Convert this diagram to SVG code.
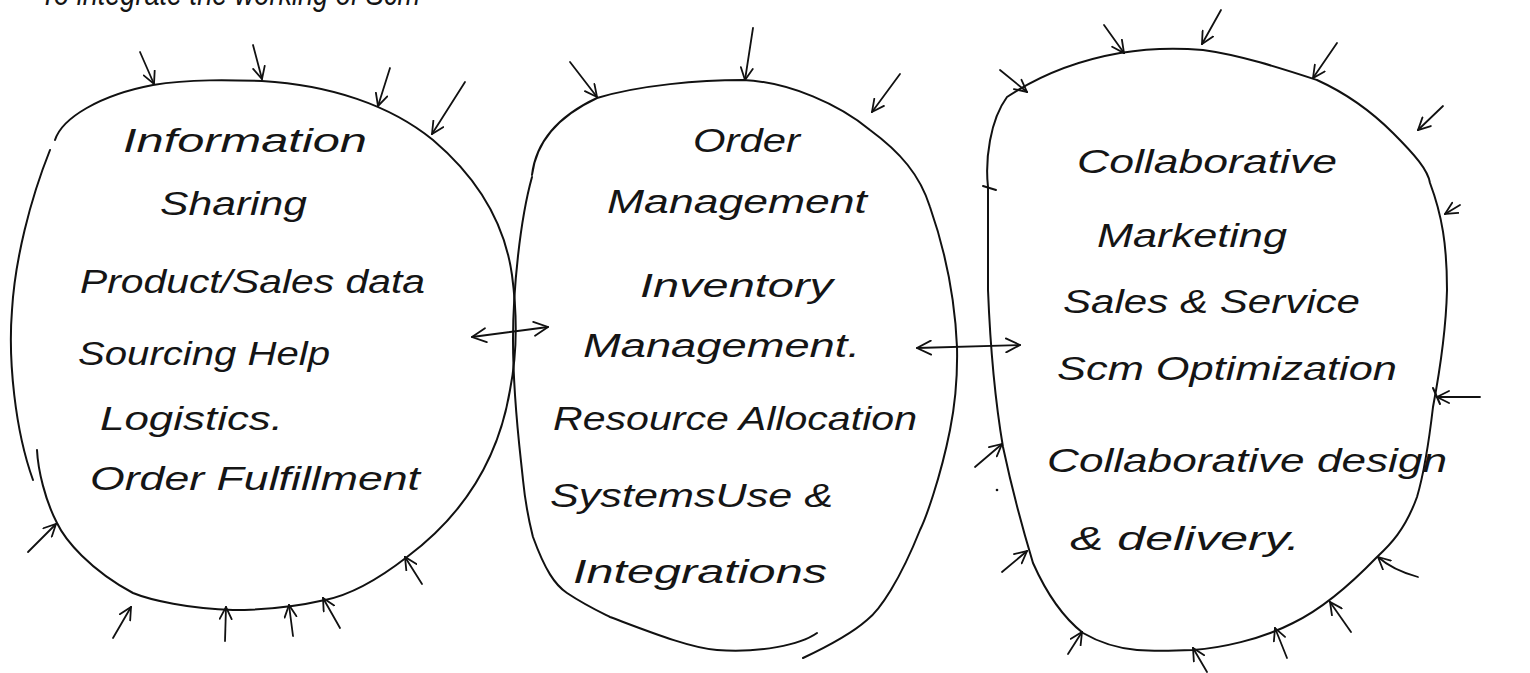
<svg xmlns="http://www.w3.org/2000/svg" width="1530" height="673" viewBox="0 0 1530 673">
  <style>
    .ink { fill: none; stroke: #111; stroke-width: 2; stroke-linecap: round; stroke-linejoin: round; }
    .arr { fill: none; stroke: #111; stroke-width: 1.8; stroke-linecap: round; marker-end: url(#head); }
    .dbl { fill: none; stroke: #111; stroke-width: 1.8; stroke-linecap: round; marker-start: url(#head2); marker-end: url(#head2); }
    .hand { font-family: "Liberation Sans", "DejaVu Sans", sans-serif; font-style: italic; font-size: 33px; fill: #151515; }
  </style>
  <defs>
    <marker id="head" viewBox="0 0 14 14" refX="13" refY="7" markerWidth="14" markerHeight="14" markerUnits="userSpaceOnUse" orient="auto">
      <path d="M1,1 L13,7 L1,13" fill="none" stroke="#111" stroke-width="1.8" stroke-linecap="round"/>
    </marker>
    <marker id="head2" viewBox="0 0 16 16" refX="15" refY="8" markerWidth="16" markerHeight="16" markerUnits="userSpaceOnUse" orient="auto-start-reverse">
      <path d="M1,1 L15,8 L1,15" fill="none" stroke="#111" stroke-width="1.8" stroke-linecap="round"/>
    </marker>
  </defs>

  <rect width="1530" height="673" fill="#fff"/>

  <!-- heading line, running off the top edge -->
  <text class="hand" x="40" y="5" textLength="380" lengthAdjust="spacingAndGlyphs">To integrate the working of Scm</text>

  <!-- left cluster -->
  <g id="info-sharing">
    <path class="ink" d="M55,140 C62,118 100,95 153,85 C190,79 230,80 262,81 C330,85 390,105 433,140 C480,180 505,225 512,275 C518,320 516,360 510,390 C500,450 470,510 407,557 C380,578 350,595 325,600 C290,608 260,610 233,610 C190,609 150,600 133,593 C90,570 65,540 57,523 C45,500 38,470 37,450"/>
    <path class="ink" d="M50,150 C30,200 15,260 12,310 C8,360 15,430 33,480"/>
    <text class="hand" x="123" y="152" textLength="244" lengthAdjust="spacingAndGlyphs">Information</text>
    <text class="hand" x="160" y="215" textLength="147" lengthAdjust="spacingAndGlyphs">Sharing</text>
    <text class="hand" x="80" y="293" textLength="345" lengthAdjust="spacingAndGlyphs">Product/Sales data</text>
    <text class="hand" x="78" y="365" textLength="252" lengthAdjust="spacingAndGlyphs">Sourcing Help</text>
    <text class="hand" x="100" y="430" textLength="183" lengthAdjust="spacingAndGlyphs">Logistics.</text>
    <text class="hand" x="90" y="490" textLength="330" lengthAdjust="spacingAndGlyphs">Order Fulfillment</text>
  </g>

  <!-- middle cluster -->
  <g id="order-management">
    <path class="ink" d="M532,175 C535,150 550,120 597,98 C640,85 700,80 743,80 C790,82 840,105 870,130 C900,152 920,175 930,207 C945,250 955,300 957,347 C958,390 952,420 950,430 C940,480 925,520 920,530 C900,580 880,610 867,620 C850,635 820,650 803,658"/>
    <path class="ink" d="M532,177 C520,220 513,290 513,340 C513,400 520,450 523,480 C526,510 530,525 533,537 C545,570 555,585 567,593 C585,605 600,612 610,617 C650,632 690,648 717,650 C760,653 800,645 817,633"/>
    <text class="hand" x="693" y="152" textLength="107" lengthAdjust="spacingAndGlyphs">Order</text>
    <text class="hand" x="607" y="213" textLength="260" lengthAdjust="spacingAndGlyphs">Management</text>
    <text class="hand" x="640" y="297" textLength="193" lengthAdjust="spacingAndGlyphs">Inventory</text>
    <text class="hand" x="583" y="357" textLength="277" lengthAdjust="spacingAndGlyphs">Management.</text>
    <text class="hand" x="553" y="430" textLength="364" lengthAdjust="spacingAndGlyphs">Resource Allocation</text>
    <text class="hand" x="550" y="507" textLength="283" lengthAdjust="spacingAndGlyphs">SystemsUse &amp;</text>
    <text class="hand" x="573" y="583" textLength="254" lengthAdjust="spacingAndGlyphs">Integrations</text>
  </g>

  <!-- right cluster -->
  <g id="collab-marketing">
    <path class="ink" d="M988,187 C985,160 990,120 1007,97 C1040,75 1080,60 1120,53 C1150,48 1180,48 1203,50 C1240,55 1280,68 1317,80 C1350,95 1375,115 1393,133 C1415,155 1428,170 1430,183 C1442,215 1447,245 1447,290 C1446,330 1440,370 1433,407 C1428,450 1422,480 1417,497 C1405,530 1390,545 1377,557 C1350,585 1320,610 1293,623 C1260,640 1220,648 1193,650 C1170,651 1150,651 1137,650 C1115,648 1095,640 1083,633 C1060,615 1045,590 1033,563 C1020,520 1010,480 1003,447 C995,400 990,340 988,290 C988,250 988,210 988,187"/>
    <path class="ink" d="M983,186 L996,190"/>
    <circle cx="997" cy="490" r="1.3" fill="#111"/>
    <text class="hand" x="1077" y="173" textLength="260" lengthAdjust="spacingAndGlyphs">Collaborative</text>
    <text class="hand" x="1097" y="247" textLength="190" lengthAdjust="spacingAndGlyphs">Marketing</text>
    <text class="hand" x="1063" y="313" textLength="297" lengthAdjust="spacingAndGlyphs">Sales &amp; Service</text>
    <text class="hand" x="1057" y="380" textLength="340" lengthAdjust="spacingAndGlyphs">Scm Optimization</text>
    <text class="hand" x="1047" y="472" textLength="400" lengthAdjust="spacingAndGlyphs">Collaborative design</text>
    <text class="hand" x="1070" y="550" textLength="230" lengthAdjust="spacingAndGlyphs">&amp; delivery.</text>
  </g>

  <!-- connectors: inbound arrows and the two-way links -->
  <g id="connectors">
    <path class="dbl" d="M472,337 L548,327"/>
    <path class="dbl" d="M917,348 L1020,345"/>

    <path class="arr" d="M140,52 L154,84"/>
    <path class="arr" d="M253,45 L262,79"/>
    <path class="arr" d="M390,68 L378,106"/>
    <path class="arr" d="M465,82 L432,134"/>
    <path class="arr" d="M28,552 L56,524"/>
    <path class="arr" d="M113,638 L131,607"/>
    <path class="arr" d="M225,641 L226,607"/>
    <path class="arr" d="M293,636 L289,605"/>
    <path class="arr" d="M340,628 L323,598"/>
    <path class="arr" d="M422,584 L405,557"/>

    <path class="arr" d="M570,62 L597,97"/>
    <path class="arr" d="M753,28 L745,80"/>
    <path class="arr" d="M900,74 L872,112"/>

    <path class="arr" d="M1000,70 L1027,92"/>
    <path class="arr" d="M1104,25 L1124,53"/>
    <path class="arr" d="M1221,10 L1202,44"/>
    <path class="arr" d="M1337,43 L1313,78"/>
    <path class="arr" d="M1443,106 L1418,130"/>
    <path class="arr" d="M1460,205 L1445,214"/>
    <path class="arr" d="M1480,397 L1437,397"/>
    <path class="ink" d="M1433,388 L1440,404" stroke-width="1.5"/>
    <path class="arr" d="M975,467 L1002,444"/>
    <path class="arr" d="M1002,572 L1027,551"/>
    <path class="arr" d="M1068,654 L1082,632"/>
    <path class="arr" d="M1207,672 L1193,648"/>
    <path class="arr" d="M1287,658 L1275,628"/>
    <path class="arr" d="M1351,632 L1330,602"/>
    <path class="arr" d="M1418,577 C1400,572 1388,566 1378,557"/>
  </g>
</svg>
